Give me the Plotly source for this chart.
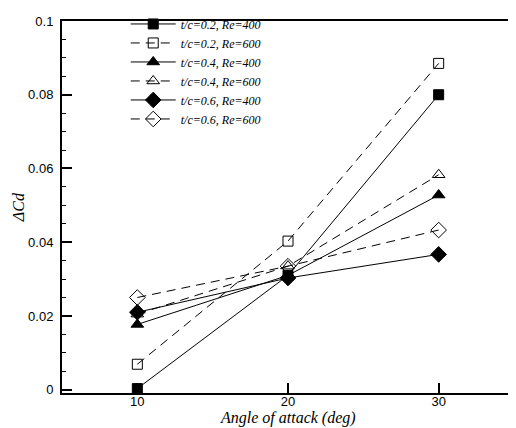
import plotly.graph_objects as go

angles = [10, 20, 30]
series_names = ["t/c=0.2, Re=400", "t/c=0.2, Re=600", "t/c=0.4, Re=400",
                "t/c=0.4, Re=600", "t/c=0.6, Re=400", "t/c=0.6, Re=600"]
tc02_re400 = [0.0003, 0.031, 0.080]
tc02_re600 = [0.0069, 0.0403, 0.0885]
tc04_re400 = [0.0177, 0.031, 0.0528]
tc04_re600 = [0.0205, 0.0335, 0.0583]
tc06_re400 = [0.021, 0.0303, 0.0367]
tc06_re600 = [0.025, 0.0335, 0.0433]
yticks = [0, 0.02, 0.04, 0.06, 0.08, 0.1]
xticks = [10, 20, 30]

values = [tc02_re400, tc02_re600, tc04_re400, tc04_re600, tc06_re400, tc06_re600]
symbols = ["square", "square-open", "triangle-up", "triangle-up-open", "diamond", "diamond-open"]
dashes = ["solid", "9px,6px", "solid", "9px,6px", "solid", "9px,6px"]
sizes = [10, 10, 11, 11, 12, 12]

fig = go.Figure()
for name, vals, sym, dash, sz in zip(series_names, values, symbols, dashes, sizes):
    fig.add_trace(go.Scatter(
        x=angles, y=vals, name=name, mode="lines+markers",
        line=dict(color="black", width=1, dash=dash),
        marker=dict(symbol=sym, size=sz, color="black", line=dict(color="black", width=1)),
    ))

axis_common = dict(showgrid=False, zeroline=False, showline=True, linecolor="black",
                   linewidth=2, mirror=True, ticks="inside", ticklen=10, tickwidth=2,
                   automargin=False,
                   tickcolor="black", tickfont=dict(family="Liberation Sans", size=13, color="black"))

title_font = dict(family="Liberation Serif", size=16, color="black", style="italic")

# page body has an 8px margin, so the figure is sized to fit the 516x428 window
fig.update_layout(
    width=508, height=420,
    margin=dict(l=54, r=2, t=1, b=35),
    paper_bgcolor="white", plot_bgcolor="white",
    showlegend=True,
    legend=dict(x=0.141, y=1.031, xanchor="left", yanchor="top", bgcolor="rgba(0,0,0,0)",
                font=dict(family="Liberation Serif", size=12, color="black", style="italic"),
                tracegroupgap=0, itemwidth=45),
    xaxis=dict(range=[5, 35], tickvals=xticks, ticklabelstandoff=-5, **axis_common),
    yaxis=dict(range=[-0.0009, 0.1], tickvals=yticks, ticktext=[str(v) for v in yticks],
               ticklabelstandoff=4,
               minor=dict(dtick=0.005, tick0=0, ticks="inside", ticklen=4, tickcolor="black", tickwidth=1),
               **axis_common),
    annotations=[
        dict(text="Angle of attack (deg)", xref="paper", yref="paper", x=0.5, y=-0.038,
             xanchor="center", yanchor="top", showarrow=False, font=title_font),
        dict(text="ΔCd", xref="paper", yref="paper", x=-0.097, y=0.5, textangle=-90,
             xanchor="center", yanchor="middle", showarrow=False, font=title_font),
    ],
)

fig.write_html("out.html")
